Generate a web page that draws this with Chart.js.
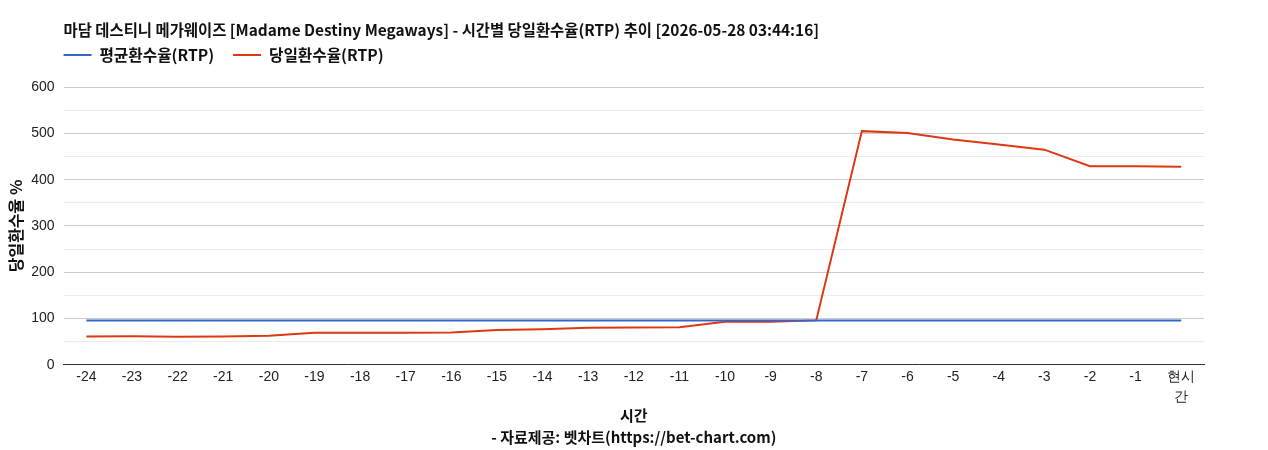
<!DOCTYPE html>
<html>
<head>
<meta charset="utf-8">
<script src="https://cdn.jsdelivr.net/npm/chart.js@4/dist/chart.umd.min.js"></script>
<style>
  html, body { margin: 0; padding: 0; background: #fff; }
  #wrap { width: 1268px; height: 450px; }
</style>
</head>
<body>
<div id="wrap"><canvas id="rtpChart"></canvas></div>
<script>
// 시간대 (마지막 = 현시간)
const hours = ['-24', '-23', '-22', '-21', '-20', '-19', '-18', '-17', '-16', '-15', '-14', '-13',
  '-12', '-11', '-10', '-9', '-8', '-7', '-6', '-5', '-4', '-3', '-2', '-1', ['현시', '간']];
const avgRtp = [96, 96, 96, 96, 96, 96, 96, 96, 96, 96, 96, 96,
  96, 96, 96, 96, 96, 96, 96, 96, 96, 96, 96, 96, 96];
const dailyRtp = [61, 61.5, 60.5, 61, 63, 69, 69, 69, 70, 75, 77, 80,
  80.5, 81, 93, 93, 96, 505, 501, 487, 476, 465, 429, 429, 428];
const yTicks = [0, 100, 200, 300, 400, 500, 600];

const titleText = '마담 데스티니 메가웨이즈 [Madame Destiny Megaways] - 시간별 당일환수율(RTP) 추이 [2026-05-28 03:44:16]';
const captionText = '- 자료제공: 벳차트(https://bet-chart.com)';
const korFont = '"Noto Sans CJK KR", "Noto Sans", sans-serif';
const tickFont = '"Liberation Sans", Arial, sans-serif';

// title / legend start at the plot's left edge, caption centred under the plot
const alignToPlot = {
  id: 'alignToPlot',
  afterLayout(chart) {
    const area = chart.chartArea;
    if (chart.titleBlock) chart.titleBlock.left = area.left;
    const lg = chart.legend;
    if (lg) {
      const pad = lg.options.labels.padding;
      lg.left = area.left - pad;
      lg.top = 55 - pad - lg.options.labels.font.size / 2;
    }
    const sub = chart.boxes.find(b => b.options && b.options.text === captionText);
    if (sub) {
      sub.left = area.left;
      sub.right = area.right;
    }
  }
};

new Chart(document.getElementById('rtpChart'), {
  type: 'line',
  data: {
    labels: hours,
    datasets: [
      { label: '평균환수율(RTP)', data: avgRtp, borderColor: '#3366cc', backgroundColor: '#3366cc',
        borderWidth: 2, pointRadius: 0, tension: 0 },
      { label: '당일환수율(RTP)', data: dailyRtp, borderColor: '#dc3912', backgroundColor: '#dc3912',
        borderWidth: 2, pointRadius: 0, tension: 0 }
    ]
  },
  options: {
    responsive: true,
    maintainAspectRatio: false,
    animation: false,
    layout: { padding: { left: 6, right: 64, top: 2, bottom: 0 } },
    scales: {
      x: {
        offset: true,
        grid: { display: false, drawTicks: false },
        border: { color: '#333', width: 1 },
        ticks: {
          color: '#222', padding: 3, maxRotation: 0, autoSkip: false,
          font: { family: tickFont, size: 14, lineHeight: 1.4 }
        },
        title: {
          display: true,
          text: '시간',
          color: '#111',
          font: { family: korFont, size: 15, weight: 'bold' },
          padding: { top: -4, bottom: 4 }
        }
      },
      y: {
        min: 0,
        max: 600,
        border: { display: false },
        grid: {
          drawTicks: false,
          color: (ctx) => (ctx.tick && ctx.tick.value % 100 === 0) ? '#cccccc' : '#ebebeb'
        },
        ticks: {
          stepSize: 50,
          padding: 9,
          color: '#222',
          font: { family: tickFont, size: 14 },
          callback: (v) => yTicks.includes(v) ? v : ''
        },
        title: {
          display: true,
          text: '당일환수율 %',
          color: '#111',
          font: { family: korFont, size: 16, weight: 'bold' },
          padding: { top: 0, bottom: -3 }
        }
      }
    },
    plugins: {
      title: {
        display: true,
        text: titleText,
        align: 'start',
        color: '#111',
        font: { family: korFont, size: 15.4, weight: 'bold' },
        padding: { top: 19, bottom: 3 }
      },
      subtitle: {
        display: true,
        position: 'bottom',
        text: captionText,
        color: '#111',
        font: { family: korFont, size: 15, weight: 'bold' },
        padding: { top: 0, bottom: 4 }
      },
      legend: {
        display: true,
        align: 'start',
        labels: {
          boxWidth: 28,
          boxHeight: 2,
          padding: 19,
          color: '#111',
          font: { family: korFont, size: 15.7, weight: 'bold' },
          generateLabels: (chart) => Chart.defaults.plugins.legend.labels.generateLabels(chart)
            .map(item => Object.assign(item, { lineWidth: 0 }))
        }
      },
      tooltip: { enabled: false }
    }
  },
  plugins: [alignToPlot]
});
</script>
</body>
</html>
